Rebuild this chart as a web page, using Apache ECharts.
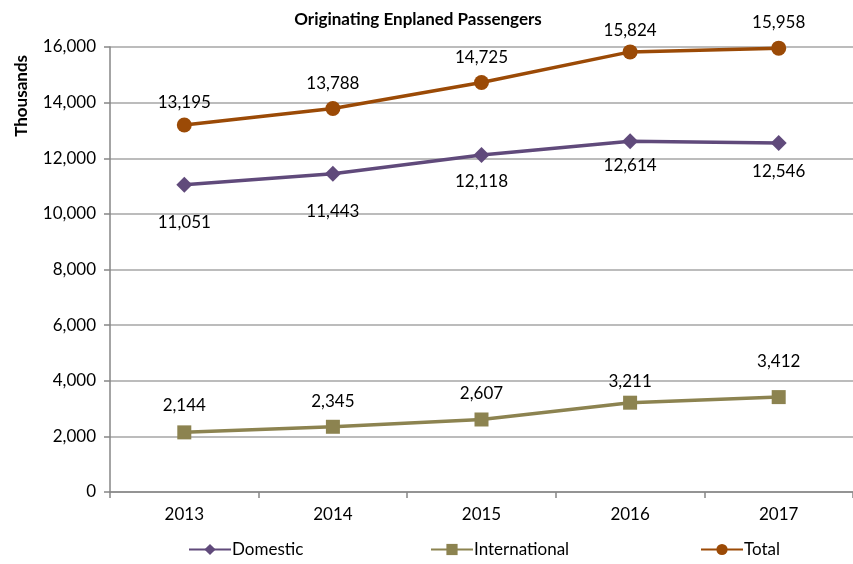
<!DOCTYPE html>
<html>
<head>
<meta charset="utf-8">
<script src="https://cdn.jsdelivr.net/npm/echarts@6/dist/echarts.min.js"></script>
<style>
  html, body { margin: 0; padding: 0; background: #fff; }
  #chart { width: 853px; height: 564px; }
</style>
</head>
<body>
<div id="chart"></div>
<script>
// data (thousands)
var years = ['2013', '2014', '2015', '2016', '2017'];
var domestic = [11051, 11443, 12118, 12614, 12546];
var international = [2144, 2345, 2607, 3211, 3412];
var total = [13195, 13788, 14725, 15824, 15958];

// label gaps per point, as Excel placed them
var domesticGap = [21, 21, 10, 8, 12];
var internationalGap = [11, 10, 10, 6, 20];
var totalGap = [6, 9, 9, 5, 10];

var font = 'Lato, "Open Sans", sans-serif';
var fmt = function (v) { return v.toLocaleString('en-US'); };

var chart = echarts.init(document.getElementById('chart'));

function lineSeries(name, values, gaps, color, symbol, size, pos) {
  return {
    name: name,
    type: 'line',
    data: values.map(function (v, i) {
      return { value: v, label: { distance: gaps[i] } };
    }),
    symbol: symbol,
    symbolSize: size,
    lineStyle: { color: color, width: 3.5 },
    itemStyle: { color: color },
    label: {
      show: true,
      position: pos,
      color: '#000',
      fontFamily: font,
      fontSize: 17,
      formatter: function (p) { return fmt(p.value); }
    },
    animation: false
  };
}

function legendAt(name, left) {
  return {
    data: [name],
    left: left,
    top: 541,
    padding: 0,
    itemWidth: 42,
    itemHeight: 14,
    itemGap: 0,
    textStyle: { fontFamily: font, fontSize: 17, color: '#000', padding: [0, 0, 0, -4] }
  };
}

var option = {
  title: {
    text: 'Originating Enplaned Passengers',
    left: 413,
    top: 6,
    textAlign: 'center',
    textStyle: { fontFamily: font, fontSize: 17, fontWeight: 'bold', color: '#000' }
  },
  graphic: [{
    type: 'text',
    left: 13,
    top: 55,
    rotation: Math.PI / 2,
    style: { text: 'Thousands', font: 'bold 17px ' + font, fill: '#000' }
  }],
  grid: { left: 110, right: 0, top: 47, bottom: 72 },
  legend: [
    legendAt('Domestic', 188),
    legendAt('International', 430),
    legendAt('Total', 700)
  ],
  xAxis: {
    type: 'category',
    data: years,
    boundaryGap: true,
    axisLine: { lineStyle: { color: '#868686', width: 1.5 } },
    axisTick: { show: true, length: 6, lineStyle: { color: '#868686', width: 1.5 } },
    axisLabel: { color: '#000', fontFamily: font, fontSize: 17, margin: 14 }
  },
  yAxis: {
    type: 'value',
    min: 0,
    max: 16000,
    interval: 2000,
    axisLine: { show: true, lineStyle: { color: '#868686', width: 1.5 } },
    axisTick: { show: true, length: 6, lineStyle: { color: '#868686', width: 1.5 } },
    splitLine: { lineStyle: { color: '#a6a6a6', width: 1.5 } },
    axisLabel: { color: '#000', fontFamily: font, fontSize: 17, margin: 14, formatter: fmt }
  },
  series: [
    lineSeries('Domestic', domestic, domesticGap, '#604a7b', 'diamond', 16, 'bottom'),
    lineSeries('International', international, internationalGap, '#8c8350', 'rect', 14, 'top'),
    lineSeries('Total', total, totalGap, '#9b4a06', 'circle', 15, 'top')
  ]
};

chart.setOption(option);
</script>
</body>
</html>
